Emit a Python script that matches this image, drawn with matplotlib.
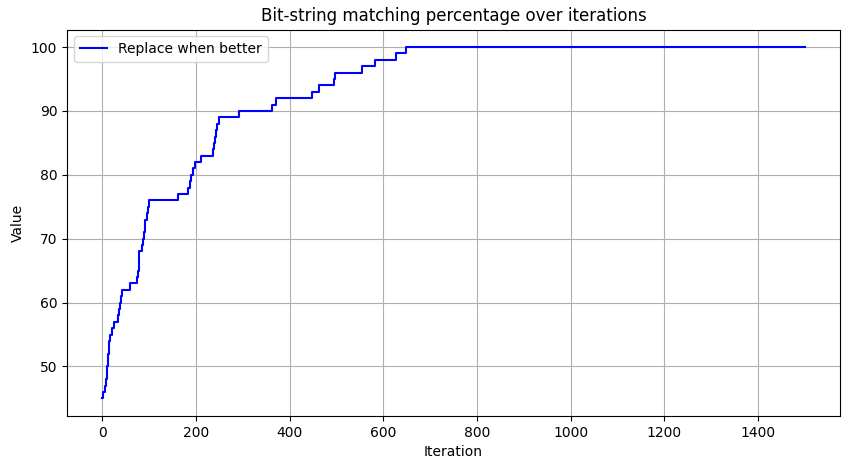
import matplotlib
matplotlib.use("Agg")
import matplotlib.pyplot as plt

step_iters = [0, 1, 7, 9, 10, 11, 12, 13, 14, 16, 20, 26, 33, 36, 38, 40, 43, 60, 75, 77, 78, 79,
              85, 87, 90, 92, 96, 98, 101, 162, 184, 187, 190, 193, 199, 212, 236, 239, 241, 243,
              245, 250, 292, 362, 371, 448, 462, 495, 498, 555, 583, 627, 648, 1500]
step_values = [45, 46, 47, 48, 49, 50, 51, 52, 54, 55, 56, 57, 58, 59, 60, 61, 62, 63, 64, 65, 66, 68,
               69, 70, 71, 73, 74, 75, 76, 77, 78, 79, 80, 81, 82, 83, 84, 85, 86, 87,
               88, 89, 90, 91, 92, 93, 94, 95, 96, 97, 98, 99, 100, 100]

fig = plt.figure(figsize=(8.5, 4.68), dpi=100)
ax = fig.add_axes([67/850, 52/468, (840-67)/850, (416-29.5)/468])
ax.plot(step_iters, step_values, drawstyle="steps-post", color="blue", label="Replace when better")
ax.set_title("Bit-string matching percentage over iterations")
ax.set_xlabel("Iteration")
ax.set_ylabel("Value")
ax.grid(True)
ax.legend(loc="upper left")
fig.savefig("out.png", dpi=100)
